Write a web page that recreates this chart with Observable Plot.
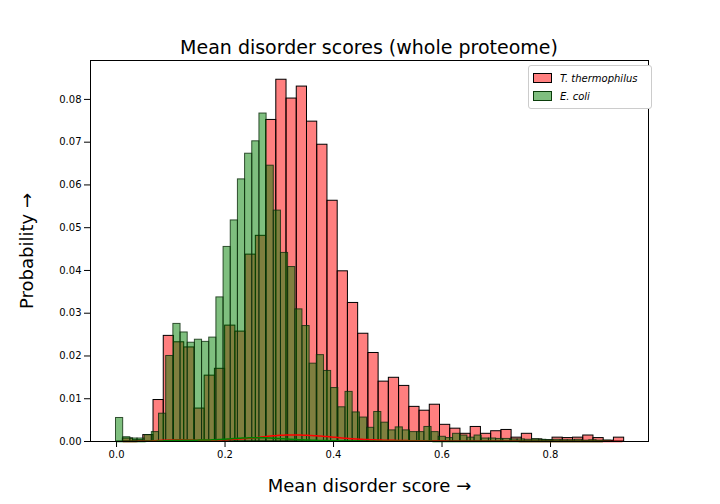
<!DOCTYPE html>
<html><head><meta charset="utf-8">
<script src="https://cdn.jsdelivr.net/npm/d3@7"></script>
<script src="https://cdn.jsdelivr.net/npm/@observablehq/plot@0.6"></script>
<style>
body{margin:0;background:#fff;font-family:"DejaVu Sans",sans-serif}
#wrap{position:relative;width:720px;height:504px}
#title{position:absolute;top:36px;left:90px;width:558px;text-align:center;font-size:19px}
#legend{position:absolute;top:65px;left:528px;width:114px;border:1px solid #ccc;border-radius:3px;background:#fff;font-size:10px;padding:3px 4px}
#legend div{display:flex;align-items:center;height:18px}
#legend span.sw{width:17px;height:8px;margin-right:8px;border:1px solid #000}
</style></head><body>
<div id="wrap"><div id="chart"></div>
<div id="title">Mean disorder scores (whole proteome)</div>
<div id="legend">
<div><span class="sw" style="background:rgba(255,0,0,0.5)"></span><i>T. thermophilus</i></div>
<div><span class="sw" style="background:rgba(0,128,0,0.5);border-color:#0a3d0a"></span><i>E. coli</i></div>
</div></div>
<script>
// T. thermophilus: 49 bins from 0.0116, width 0.01886
const redStart = 0.0116, redWidth = 0.01886;
const redValues = [0.0007,0.0003,0.0015,0.0097,0.0247,0.0232,0.0220,0.0077,0.0154,0.0170,
  0.0271,0.0257,0.0437,0.0481,0.0752,0.0846,0.0802,0.0830,0.0748,0.0694,
  0.0563,0.0398,0.0324,0.0252,0.0207,0.0140,0.0149,0.0130,0.0081,0.0072,
  0.0086,0.0039,0.0030,0.0018,0.0034,0.0018,0.0024,0.0027,0.0009,0.0018,
  0.0005,0.0003,0.0009,0.0008,0.0009,0.0014,0.0008,0.0002,0.0009];
// E. coli: bins from 0.0, width 0.01322
const greenStart = -0.001, greenWidth = 0.01322;
const greenValues = [0.0055,0.0010,0.0007,0.0007,0.0015,0.0022,0.0065,0.0200,0.0275,0.0255,
  0.0231,0.0238,0.0233,0.0243,0.0337,0.0455,0.0517,0.0613,0.0673,0.0702,
  0.0767,0.0645,0.0540,0.0441,0.0408,0.0309,0.0270,0.0182,0.0202,0.0165,
  0.0125,0.0080,0.0116,0.0068,0.0056,0.0032,0.0069,0.0044,0.0026,0.0033,
  0.0026,0.0022,0.0022,0.0034,0.0022,0.0011,0.0008,0.0018,0.0014,0.0009,
  0.0014,0.0007,0.0007,0.0006,0.0006,0.0005,0.0005,0.0004,0.0005,0.0004,
  0.0003,0.0004,0.0003,0.0003,0.0004,0.0002,0.0003,0.0002,0.0002];
const xTicks = [0, 0.2, 0.4, 0.6, 0.8];
const yTicks = [0, 0.01, 0.02, 0.03, 0.04, 0.05, 0.06, 0.07, 0.08];

const bins = (start, w, vals) => vals.map((v, i) => ({x1: start + i*w, x2: start + (i+1)*w, y: v}));
const red = bins(redStart, redWidth, redValues);
const green = bins(greenStart, greenWidth, greenValues);

// kernel smoothing of the histogram, stands in for seaborn's kde line
function kde(b, bw, lo, hi) {
  const w = b[0].x2 - b[0].x1, out = [];
  for (let x = lo; x <= hi; x += 0.004) {
    let s = 0;
    for (const d of b) {
      const c = (d.x1 + d.x2) / 2, z = (x - c) / bw;
      s += d.y * w * Math.exp(-0.5*z*z) / (bw*Math.sqrt(2*Math.PI));
    }
    out.push({x, y: s * w});
  }
  return out;
}
const redKde = kde(red, 0.022, 0.012, 0.934);
const greenKde = kde(green, 0.02, 0.0, 0.90);

const chart = Plot.plot({
  width: 720, height: 504,
  marginLeft: 90, marginRight: 72, marginTop: 60, marginBottom: 63,
  style: {fontFamily: "DejaVu Sans", fontSize: "10px", color: "#000"},
  x: {domain: [-0.048, 0.9806], ticks: xTicks, tickFormat: ".1f", label: "Mean disorder score", labelAnchor: "center", labelOffset: 50},
  y: {domain: [0, 0.0891], ticks: yTicks, tickFormat: ".2f", label: "Probability", labelAnchor: "center", labelOffset: 70},
  marks: [
    Plot.rectY(red, {x1: "x1", x2: "x2", y: "y", fill: "red", fillOpacity: 0.5, stroke: "black", strokeWidth: 1, insetLeft: 0, insetRight: 0}),
    Plot.rectY(green, {x1: "x1", x2: "x2", y: "y", fill: "green", fillOpacity: 0.5, stroke: "#0b2a0b", strokeOpacity: 0.8, strokeWidth: 1, insetLeft: 0, insetRight: 0}),
    Plot.line(redKde, {x: "x", y: "y", stroke: "red", strokeWidth: 1.5}),
    Plot.line(greenKde, {x: "x", y: "y", stroke: "green", strokeWidth: 1.5}),
    Plot.frame({stroke: "#000"})
  ]
});
d3.select(chart).selectAll("g[aria-label='x-axis label'] text, g[aria-label='y-axis label'] text").style("font-size", "18px");
d3.select("#chart").append(() => chart);
</script></body></html>
